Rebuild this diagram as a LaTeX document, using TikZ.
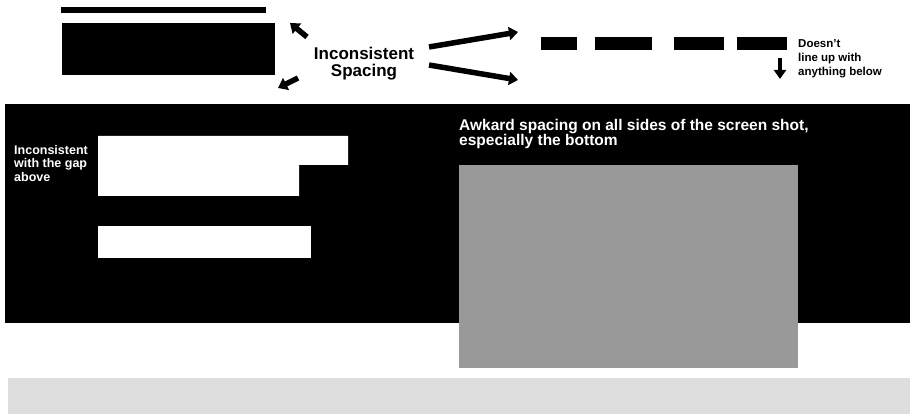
\documentclass[tikz,border=0pt]{standalone}
\usepackage{fontspec}
\setmainfont{Liberation Sans}
\usetikzlibrary{arrows.meta, positioning}
\definecolor{shotgray}{HTML}{999999}
\definecolor{footgray}{HTML}{DEDEDE}
\tikzset{
  blk/.style={fill=black},
  wbox/.style={fill=white},
  dashbar/.style={fill=black},
  callout/.style={font=\bfseries\fontsize{17}{16.5}\selectfont, align=center, inner sep=0pt},
  smallnote/.style={font=\bfseries\fontsize{11.5}{14}\selectfont, align=left, inner sep=0pt},
  bignote/.style={font=\bfseries\fontsize{15.5}{15}\selectfont, align=left, inner sep=0pt, text=white},
  arr/.style={-{Triangle[length=9pt, width=13pt]}, line width=5.5pt},
  thinarr/.style={-{Triangle[length=9pt, width=12pt]}, line width=4pt},
}

\begin{document}
\begin{tikzpicture}[x=1pt, y=-1pt]
    \useasboundingbox[fill=white] (0,0) rectangle (910,414);
    % header blocks
    \fill[blk] (61,7) rectangle (266,13);
    \fill[blk] (62,23) rectangle (275,75);
    \foreach \xa/\xb in {541/577, 595/652, 674/724, 737/787}
      \fill[dashbar] (\xa,37) rectangle (\xb,50);
    % dark band and footer
    \fill[blk] (5,104) rectangle (910,323);
    \fill[footgray] (8,378) rectangle (910,414);
    \fill[wbox] (98,136) -- (348,136) -- (348,165) -- (299,165) -- (299,196) -- (98,196) -- cycle;
    \fill[wbox] (98,226) rectangle (311,258);
    \fill[shotgray] (459,165) rectangle (798,368);
    % labels
    \node[callout, anchor=north] (spacing) at (364,47) {Inconsistent\\Spacing};
    \node[smallnote, anchor=north west] (lineup) at (798,39) {Doesn't\\line up with\\anything below};
    \node[smallnote, anchor=north west, text=white, font=\bfseries\fontsize{12.5}{13.5}\selectfont] (gapnote) at (14,145) {Inconsistent\\with the gap\\above};
    \node[bignote, anchor=north west] (awkward) at (459,119) {Awkard spacing on all sides of the screen shot,\\especially the bottom};
    % arrows
    \coordinate (ultail) at (307,37);
    \coordinate (ulhead) at (290,23);
    \coordinate (dltail) at (298,78);
    \coordinate (dlhead) at (278,88);
    \coordinate (urtail) at (429,47);
    \coordinate (urhead) at (518,32);
    \coordinate (drtail) at (429,65);
    \coordinate (drhead) at (518,80);
    \coordinate (dntail) at (780,58);
    \coordinate (dnhead) at (780,79);
    \draw[arr] (ultail) -- (ulhead);
    \draw[arr] (dltail) -- (dlhead);
    \draw[arr] (urtail) -- (urhead);
    \draw[arr] (drtail) -- (drhead);
    \draw[thinarr] (dntail) -- (dnhead);
\end{tikzpicture}
\end{document}
